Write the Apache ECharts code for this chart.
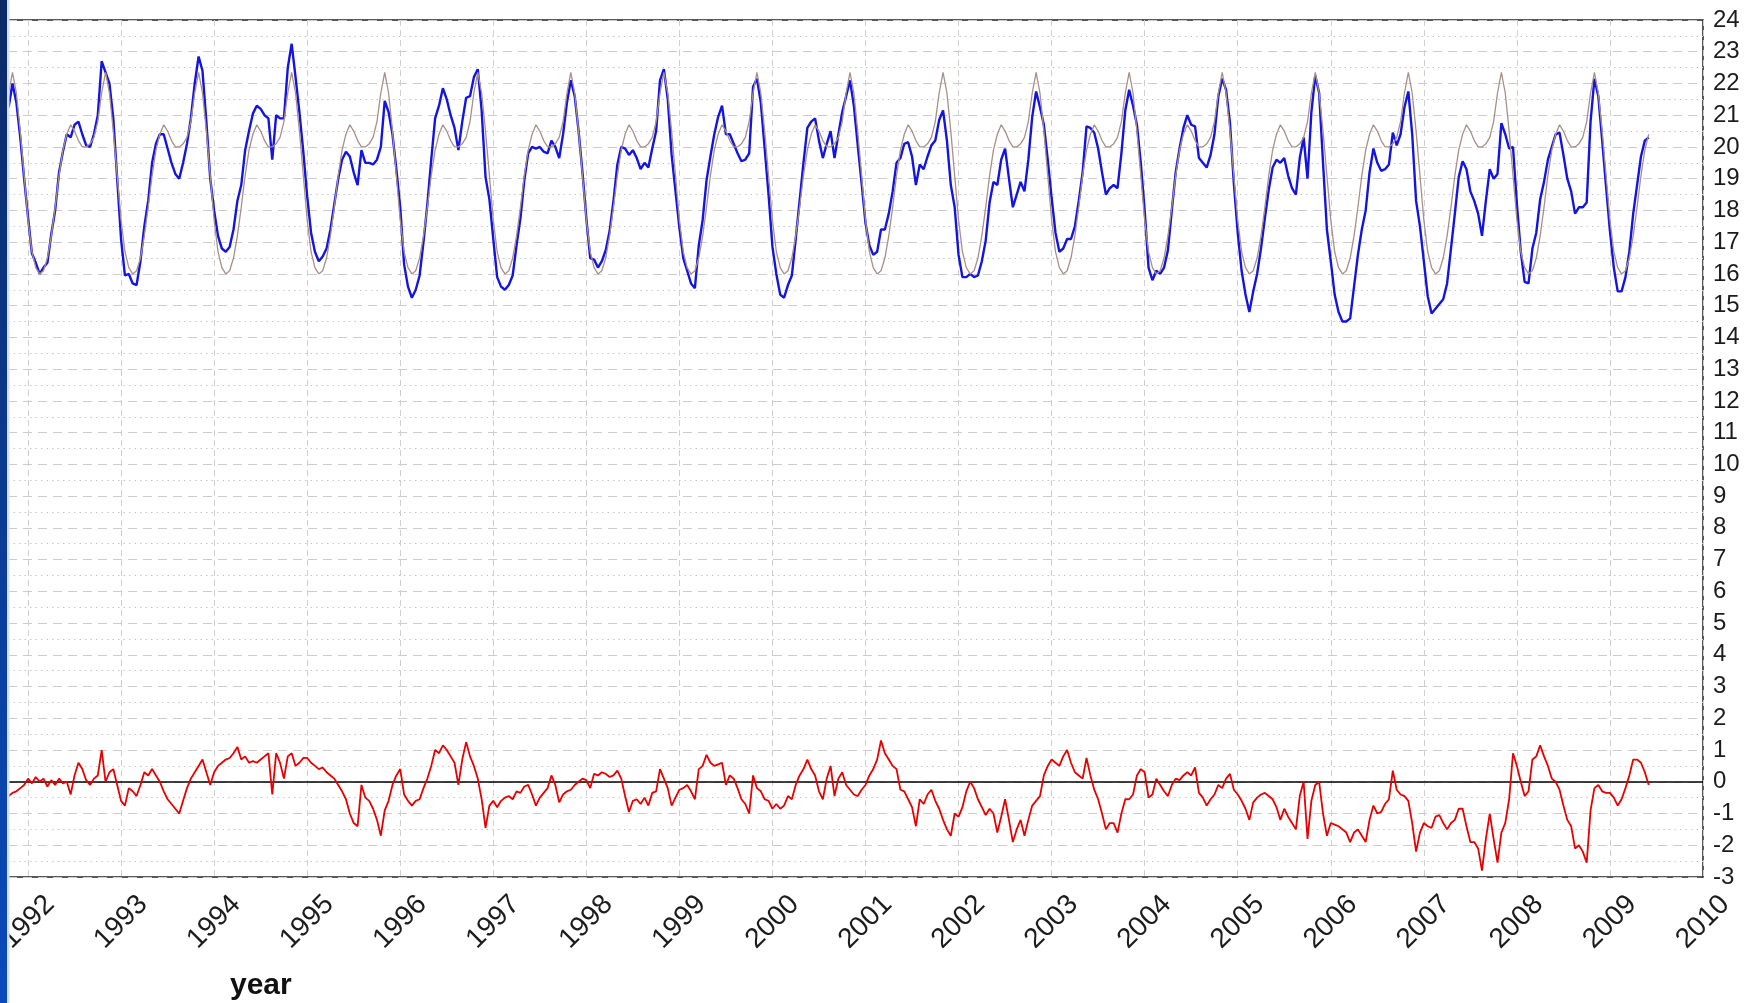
<!DOCTYPE html>
<html>
<head>
<meta charset="utf-8">
<script src="https://cdn.jsdelivr.net/npm/echarts@6/dist/echarts.min.js"></script>
<style>
html,body{margin:0;padding:0;background:#fff;}
#c{width:1749px;height:1003px;}
</style>
</head>
<body>
<div id="c"></div>
<script>
// ---- data ----
const yearTicks = [1992,1993,1994,1995,1996,1997,1998,1999,2000,2001,2002,2003,2004,2005,2006,2007,2008,2009,2010];
const firstYear = 1991;
const firstStepOfFirstYear = 19;   // series begin late in 1991
const stepsPerYear = 24;           // half-monthly samples

// mean seasonal cycle (brown line), one value per half-month
const climatologyYear = [17.7,16.7,16.2,16.0,16.1,16.5,17.2,18.1,19.1,19.9,20.4,20.7,20.5,20.2,20.0,20.0,20.1,20.3,20.8,21.7,22.35,21.7,20.5,19.1];

// observed values (blue line), one row per year
const observedByYear = [
  [21.25,22.0,21.4,20.3,19.0],
  [17.8,16.65,16.35,16.0,16.2,16.35,17.25,18.0,19.2,19.85,20.4,20.3,20.7,20.8,20.4,20.05,20.0,20.4,21.0,22.7,22.35,22.0,20.9,19.0],
  [17.1,15.95,16.0,15.7,15.65,16.4,17.5,18.3,19.5,20.1,20.4,20.4,19.95,19.5,19.15,19.0,19.5,20.1,20.9,22.0,22.85,22.4,20.8,19.0],
  [18.0,17.2,16.8,16.7,16.85,17.4,18.3,18.8,19.9,20.5,21.05,21.3,21.2,21.0,20.9,19.6,21.0,20.9,20.9,22.5,23.25,22.2,21.1,19.85],
  [18.45,17.3,16.7,16.4,16.55,16.8,17.4,18.2,19.0,19.6,19.85,19.7,19.2,18.8,19.9,19.5,19.5,19.45,19.6,20.0,21.45,21.1,20.4,19.3],
  [18.1,16.3,15.6,15.25,15.5,15.95,17.0,18.2,19.6,20.9,21.3,21.85,21.5,21.0,20.6,19.9,20.8,21.55,21.6,22.2,22.45,21.15,19.05,18.35],
  [17.1,15.9,15.6,15.5,15.65,15.95,16.9,17.75,18.95,19.8,20.0,19.95,20.0,19.85,19.8,20.2,20.0,19.65,20.4,21.4,22.1,21.6,20.5,19.2],
  [17.75,16.5,16.45,16.2,16.4,16.75,17.35,18.3,19.45,20.0,19.95,19.75,19.9,19.65,19.3,19.5,19.35,19.95,20.5,22.1,22.45,21.5,19.75,18.6],
  [17.45,16.5,16.1,15.7,15.55,16.9,17.7,18.95,19.7,20.4,20.95,21.3,20.4,20.4,20.1,19.8,19.55,19.6,19.8,21.9,22.15,21.4,19.95,18.5],
  [16.85,16.0,15.35,15.25,15.65,15.95,17.1,18.3,19.5,20.6,20.8,20.9,20.2,19.65,20.1,20.5,19.65,20.4,21.1,21.6,22.1,21.3,20.05,18.85],
  [17.6,16.9,16.6,16.7,17.4,17.4,17.9,18.6,19.5,19.65,20.1,20.15,19.7,18.8,19.45,19.3,19.7,20.05,20.2,20.85,21.15,20.2,18.8,18.1],
  [16.6,15.9,15.9,16.0,15.9,15.95,16.4,17.05,18.25,18.9,18.8,19.6,19.95,19.0,18.1,18.5,18.9,18.6,19.6,20.95,21.75,21.25,20.7,19.6],
  [18.4,17.3,16.7,16.8,17.1,17.1,17.5,18.3,19.2,20.65,20.6,20.45,19.95,19.2,18.5,18.7,18.8,18.7,19.8,21.15,21.8,21.3,20.7,19.5],
  [18.0,16.2,15.8,16.1,16.0,16.2,16.75,18.0,19.2,19.95,20.6,21.0,20.7,20.65,19.65,19.5,19.35,19.75,20.4,21.6,22.15,21.8,20.75,18.85],
  [17.3,16.1,15.35,14.8,15.45,16.0,16.8,17.75,18.65,19.35,19.6,19.5,19.65,19.1,18.7,18.5,19.65,20.3,19.0,21.1,22.25,21.7,19.5,17.4],
  [16.4,15.35,14.8,14.5,14.5,14.6,15.6,16.6,17.4,18.0,19.2,19.95,19.5,19.25,19.3,19.45,20.45,20.05,20.4,21.25,21.75,20.4,18.3,17.5],
  [16.4,15.3,14.75,14.9,15.05,15.2,15.7,16.8,17.9,19.05,19.55,19.3,18.6,18.3,17.9,17.2,18.3,19.3,19.0,19.15,20.75,20.4,19.95,20.0],
  [18.2,16.7,15.75,15.7,16.8,17.3,18.35,18.9,19.6,20.0,20.4,20.45,19.75,19.0,18.6,17.9,18.1,18.1,18.25,20.8,22.15,21.6,20.2,18.75],
  [17.35,16.2,15.45,15.45,15.9,16.7,17.9,18.8,19.7,20.2,20.3]
];

// anomaly (red line), one row per year
const anomalyByYear = [
  [-0.45,-0.35,-0.3,-0.2,-0.1],
  [0.1,-0.05,0.15,0.0,0.1,-0.15,0.05,-0.1,0.1,-0.05,0.0,-0.4,0.2,0.6,0.4,0.05,-0.1,0.1,0.2,1.0,0.0,0.3,0.4,-0.1],
  [-0.6,-0.75,-0.2,-0.3,-0.45,-0.1,0.3,0.2,0.4,0.2,0.0,-0.3,-0.55,-0.7,-0.85,-1.0,-0.6,-0.2,0.1,0.3,0.5,0.7,0.3,-0.1],
  [0.3,0.5,0.6,0.7,0.75,0.9,1.1,0.7,0.8,0.6,0.65,0.6,0.7,0.8,0.9,-0.4,0.9,0.6,0.1,0.8,0.9,0.5,0.6,0.75],
  [0.75,0.6,0.5,0.4,0.45,0.3,0.2,0.1,-0.1,-0.3,-0.55,-1.0,-1.3,-1.4,-0.1,-0.5,-0.6,-0.85,-1.2,-1.7,-0.9,-0.6,-0.1,0.2],
  [0.4,-0.4,-0.6,-0.75,-0.6,-0.55,-0.2,0.1,0.5,1.0,0.9,1.15,1.0,0.8,0.6,-0.1,0.7,1.25,0.8,0.5,0.1,-0.55,-1.45,-0.75],
  [-0.6,-0.8,-0.6,-0.5,-0.45,-0.55,-0.3,-0.35,-0.15,-0.1,-0.4,-0.75,-0.5,-0.35,-0.2,0.2,-0.1,-0.65,-0.4,-0.3,-0.25,-0.1,0.0,0.1],
  [0.05,-0.2,0.25,0.2,0.3,0.25,0.15,0.2,0.35,0.1,-0.45,-0.95,-0.6,-0.55,-0.7,-0.5,-0.75,-0.35,-0.3,0.4,0.1,-0.2,-0.75,-0.5],
  [-0.25,-0.2,-0.1,-0.3,-0.55,0.4,0.5,0.85,0.6,0.5,0.55,0.6,-0.1,0.2,0.1,-0.2,-0.55,-0.7,-1.0,0.2,-0.2,-0.3,-0.55,-0.6],
  [-0.85,-0.7,-0.85,-0.75,-0.45,-0.55,-0.1,0.2,0.4,0.7,0.4,0.2,-0.3,-0.55,0.1,0.5,-0.45,0.1,0.3,-0.1,-0.25,-0.4,-0.45,-0.25],
  [-0.1,0.2,0.4,0.7,1.3,0.9,0.7,0.5,0.4,-0.25,-0.3,-0.55,-0.8,-1.4,-0.55,-0.7,-0.4,-0.25,-0.6,-0.85,-1.2,-1.5,-1.7,-1.0],
  [-1.1,-0.8,-0.3,0.0,-0.2,-0.55,-0.8,-1.05,-0.85,-1.0,-1.6,-1.1,-0.55,-1.2,-1.9,-1.5,-1.2,-1.7,-1.2,-0.75,-0.6,-0.45,0.2,0.5],
  [0.7,0.6,0.5,0.8,1.0,0.6,0.3,0.2,0.1,0.75,0.2,-0.25,-0.55,-1.0,-1.5,-1.3,-1.3,-1.6,-1.0,-0.55,-0.55,-0.4,0.2,0.4],
  [0.3,-0.5,-0.4,0.1,-0.1,-0.3,-0.45,-0.1,0.1,0.05,0.2,0.3,0.2,0.45,-0.35,-0.5,-0.75,-0.55,-0.4,-0.1,-0.2,0.1,0.25,-0.25],
  [-0.4,-0.6,-0.85,-1.2,-0.65,-0.5,-0.4,-0.35,-0.45,-0.55,-0.8,-1.2,-0.85,-1.1,-1.3,-1.5,-0.45,0.0,-1.8,-0.6,-0.1,0.0,-1.0,-1.7],
  [-1.3,-1.35,-1.4,-1.5,-1.6,-1.9,-1.6,-1.5,-1.7,-1.9,-1.2,-0.75,-1.0,-0.95,-0.7,-0.55,0.35,-0.25,-0.4,-0.45,-0.6,-1.3,-2.2,-1.6],
  [-1.3,-1.4,-1.45,-1.1,-1.05,-1.3,-1.5,-1.3,-1.2,-0.85,-0.85,-1.4,-1.9,-1.9,-2.1,-2.8,-1.8,-1.0,-1.8,-2.55,-1.6,-1.3,-0.55,0.9],
  [0.5,0.0,-0.45,-0.3,0.7,0.8,1.15,0.8,0.5,0.1,0.0,-0.25,-0.75,-1.2,-1.4,-2.1,-2.0,-2.2,-2.55,-0.9,-0.2,-0.1,-0.3,-0.35],
  [-0.35,-0.5,-0.75,-0.55,-0.2,0.2,0.7,0.7,0.6,0.3,-0.1]
];

const yMin = -3, yMax = 24;
const xMin = 1991.785, xMax = 2010;

// ---- build [time, value] pairs ----
function toPoints(byYear, valueFn) {
  const pts = [];
  byYear.forEach(function (vals, yi) {
    const year = firstYear + yi;
    const k0 = yi === 0 ? firstStepOfFirstYear : 0;
    vals.forEach(function (v, j) {
      const k = k0 + j;
      pts.push([year + k / stepsPerYear, valueFn ? valueFn(k) : v]);
    });
  });
  return pts;
}
const observedPts = toPoints(observedByYear);
const anomalyPts = toPoints(anomalyByYear);
const climatologyPts = toPoints(observedByYear, function (k) { return climatologyYear[k]; });

const FONT = '"Liberation Sans", Arial, Helvetica, sans-serif';
const chart = echarts.init(document.getElementById('c'), null, { renderer: 'canvas' });

chart.setOption({
  animation: false,
  backgroundColor: '#ffffff',
  grid: {
    left: 8, right: 46, top: 20, bottom: 126,
    outerBoundsMode: 'none', containLabel: false,
    show: true, borderColor: '#222222', borderWidth: 1.5, backgroundColor: 'transparent'
  },
  xAxis: {
    type: 'value', min: xMin, max: xMax,
    axisLine: { show: false },
    axisTick: { show: false, customValues: yearTicks },
    axisLabel: {
      customValues: yearTicks,
      rotate: 45, align: 'center', verticalAlign: 'middle', margin: 45,
      fontSize: 28, fontFamily: FONT, color: '#1c1c1c',
      formatter: function (v) { return String(Math.round(v)); }
    },
    splitLine: { show: true, lineStyle: { color: '#cfcfcf', width: 1, type: [6, 4] } }
  },
  yAxis: {
    type: 'value', min: yMin, max: yMax, interval: 1, position: 'right',
    axisLine: { show: false },
    axisTick: { show: false },
    axisLabel: { margin: 10, fontSize: 24, fontFamily: FONT, color: '#1c1c1c' },
    splitLine: { show: true, lineStyle: { color: '#cccccc', width: 1, type: [9, 6] } },
    minorTick: { show: false, splitNumber: 2 },
    minorSplitLine: { show: true, lineStyle: { color: '#c6c6c6', width: 1, type: [1.5, 4] } }
  },
  series: [
    {
      name: 'observed', type: 'line', data: observedPts, showSymbol: false, z: 3,
      lineStyle: { color: '#1414e2', width: 2.4 }, itemStyle: { color: '#1414e2' }
    },
    {
      name: 'climatology', type: 'line', data: climatologyPts, showSymbol: false, z: 4,
      lineStyle: { color: '#a88f87', width: 1.3 }, itemStyle: { color: '#a88f87' }
    },
    {
      name: 'anomaly', type: 'line', data: anomalyPts, showSymbol: false, z: 5,
      lineStyle: { color: '#e60000', width: 1.8 }, itemStyle: { color: '#e60000' },
      markLine: {
        silent: true, symbol: ['none', 'none'], label: { show: false }, z: 2,
        lineStyle: { color: '#000000', width: 1.6, type: 'solid' },
        data: [{ yAxis: 0 }]
      }
    }
  ],
  graphic: [
    {
      type: 'rect', left: 0, top: 0, z: 100,
      shape: { width: 7, height: 1003 },
      style: { fill: new echarts.graphic.LinearGradient(0, 0, 0, 1, [
        { offset: 0, color: '#0b2a66' }, { offset: 0.5, color: '#0b3b93' }, { offset: 1, color: '#0a4abd' }
      ]) }
    },
    {
      type: 'rect', left: 7, top: 0, z: 100,
      shape: { width: 2.5, height: 1003 },
      style: { fill: '#d6dff2' }
    },
    {
      type: 'text', left: 230, top: 971, z: 100,
      style: { text: 'year', font: 'bold 30px ' + FONT, fill: '#111111' }
    }
  ]
});
</script>
</body>
</html>
